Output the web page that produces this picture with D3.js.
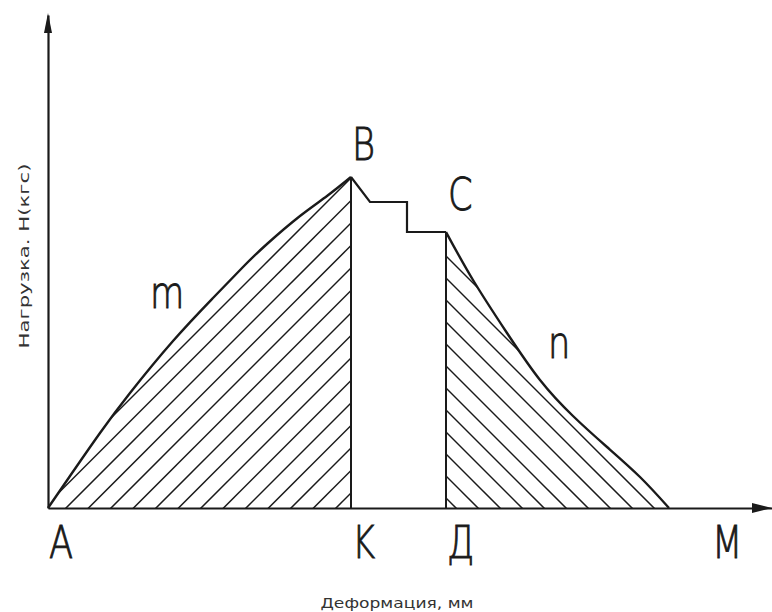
<!DOCTYPE html>
<html>
<head>
<meta charset="utf-8">
<script src="https://cdn.jsdelivr.net/npm/d3@7"></script>
<style>
  body { margin: 0; background: #fff; }
  svg { display: block; }
</style>
</head>
<body>
<svg id="chart" width="772" height="612"></svg>
<script>
// curve m: loading branch A -> B (deformation, load)
const curveM = [
  [0, 0], [2.2, 3.2], [5.2, 7.5], [8.2, 11.5], [12.5, 16.7], [16.5, 21.0],
  [19.5, 24.1], [21.9, 26.4], [25.2, 29.2], [27.9, 31.2], [30.3, 33.1]
];
// stepped drop B -> C
const stepBC = [
  [30.3, 33.1], [32.2, 30.6], [35.9, 30.6], [35.9, 27.6], [39.8, 27.6]
];
// curve n: unloading branch C -> end
const curveN = [
  [39.8, 27.6], [42.5, 22.8], [45.9, 17.5], [49.2, 12.8], [52.5, 9.2],
  [55.9, 6.1], [59.2, 3.1], [62.1, 0]
];
// points on the deformation axis
const axisPoints = ['A', 'K', 'Д', 'M'];
const axisPointX = [0, 30.3, 39.8, 66.3];
const curveNames = ['m', 'n'];
const peakNames = ['B', 'C'];

const xTitle = 'Деформация, мм';
const yTitle = 'Нагрузка. Н(кгс)';

const svg = d3.select('#chart');
const x = d3.scaleLinear().domain([0, 72.4]).range([48, 772]);
const y = d3.scaleLinear().domain([0, 49.3]).range([508, 15]);

const ink = '#1a1a1a';
const smooth = d3.curveNatural;

// hatch clip regions
const area = d3.area().x(d => x(d[0])).y0(y(0)).y1(d => y(d[1])).curve(smooth);
const defs = svg.append('defs');
defs.append('clipPath').attr('id', 'clipM').append('path').attr('d', area(curveM));
defs.append('clipPath').attr('id', 'clipN').append('path').attr('d', area(curveN));

// left hatch "/"
const kx = x(curveM[curveM.length - 1][0]);
const hatchM = svg.append('g').attr('clip-path', 'url(#clipM)');
for (let k = -2; k < 20; k++) {
  const y0 = y(0) - 15 - 22.5 * k;
  hatchM.append('line')
    .attr('x1', kx + 20).attr('y1', y0 - 20)
    .attr('x2', kx - 340).attr('y2', y0 + 340)
    .attr('stroke', ink).attr('stroke-width', 1.5);
}
// right hatch "\"
const dx = x(curveN[0][0]);
const hatchN = svg.append('g').attr('clip-path', 'url(#clipN)');
for (let k = -2; k < 14; k++) {
  const y0 = y(0) - 10 - 22 * k;
  hatchN.append('line')
    .attr('x1', dx - 20).attr('y1', y0 - 20)
    .attr('x2', dx + 300).attr('y2', y0 + 300)
    .attr('stroke', ink).attr('stroke-width', 1.5);
}

// axes
svg.append('g')
  .attr('transform', `translate(0,${y(0)})`)
  .call(d3.axisBottom(x).ticks(0).tickSizeOuter(0))
  .select('.domain').attr('stroke', ink).attr('stroke-width', 2.2);
svg.append('g')
  .attr('transform', `translate(${x(0)},0)`)
  .call(d3.axisLeft(y).ticks(0).tickSizeOuter(0))
  .select('.domain').attr('stroke', ink).attr('stroke-width', 2.2);

// arrow heads
const x1 = x.range()[1], y1 = y.range()[1];
svg.append('path')
  .attr('d', `M${x1},${y(0)} L${x1 - 20},${y(0) - 5} L${x1 - 20},${y(0) + 5} Z`)
  .attr('fill', ink);
svg.append('path')
  .attr('d', `M${x(0)},${y1 - 2} L${x(0) - 4},${y1 + 18} L${x(0) + 4},${y1 + 18} Z`)
  .attr('fill', ink);

// curves
const line = d3.line().x(d => x(d[0])).y(d => y(d[1]));
svg.append('path').attr('d', line.curve(smooth)(curveM))
  .attr('fill', 'none').attr('stroke', ink).attr('stroke-width', 2.4);
svg.append('path').attr('d', line.curve(smooth)(curveN))
  .attr('fill', 'none').attr('stroke', ink).attr('stroke-width', 2.4);
svg.append('path').attr('d', line.curve(d3.curveLinear)(stepBC))
  .attr('fill', 'none').attr('stroke', ink).attr('stroke-width', 2.2).attr('stroke-linejoin', 'miter');

// verticals at K and Д
[curveM[curveM.length - 1], curveN[0]].forEach(p => {
  svg.append('line')
    .attr('x1', x(p[0])).attr('y1', y(0))
    .attr('x2', x(p[0])).attr('y2', y(p[1]))
    .attr('stroke', ink).attr('stroke-width', 2);
});

// letter labels
const letter = (txt, px, py) => svg.append('text')
  .attr('transform', `translate(${px},${py}) scale(0.8,1)`)
  .attr('font-family', 'DejaVu Sans').attr('font-weight', 200)
  .attr('font-size', 44).attr('fill', ink)
  .attr('stroke', ink).attr('stroke-width', 0.9).text(txt);

axisPoints.forEach((t, i) => letter(t, x(axisPointX[i]) + 1, 558));
const peakB = curveM[curveM.length - 1], peakC = curveN[0];
letter(peakNames[0], x(peakB[0]) + 1, y(peakB[1]) - 17);
letter(peakNames[1], x(peakC[0]) + 2, y(peakC[1]) - 22);
letter(curveNames[0], x(curveM[4][0]) - 23, 308);
letter(curveNames[1], x(curveN[2][0]) + 41, 358);

// axis titles
svg.append('text')
  .attr('x', 397).attr('y', 608).attr('text-anchor', 'middle')
  .attr('font-family', 'DejaVu Sans Condensed').attr('font-size', 14)
  .attr('textLength', 153).attr('lengthAdjust', 'spacingAndGlyphs')
  .attr('fill', '#333').text(xTitle);
svg.append('text')
  .attr('transform', 'translate(29,256) rotate(-90)').attr('text-anchor', 'middle')
  .attr('font-family', 'DejaVu Sans Condensed').attr('font-size', 14)
  .attr('textLength', 185).attr('lengthAdjust', 'spacingAndGlyphs')
  .attr('fill', '#333').text(yTitle);
</script>
</body>
</html>
